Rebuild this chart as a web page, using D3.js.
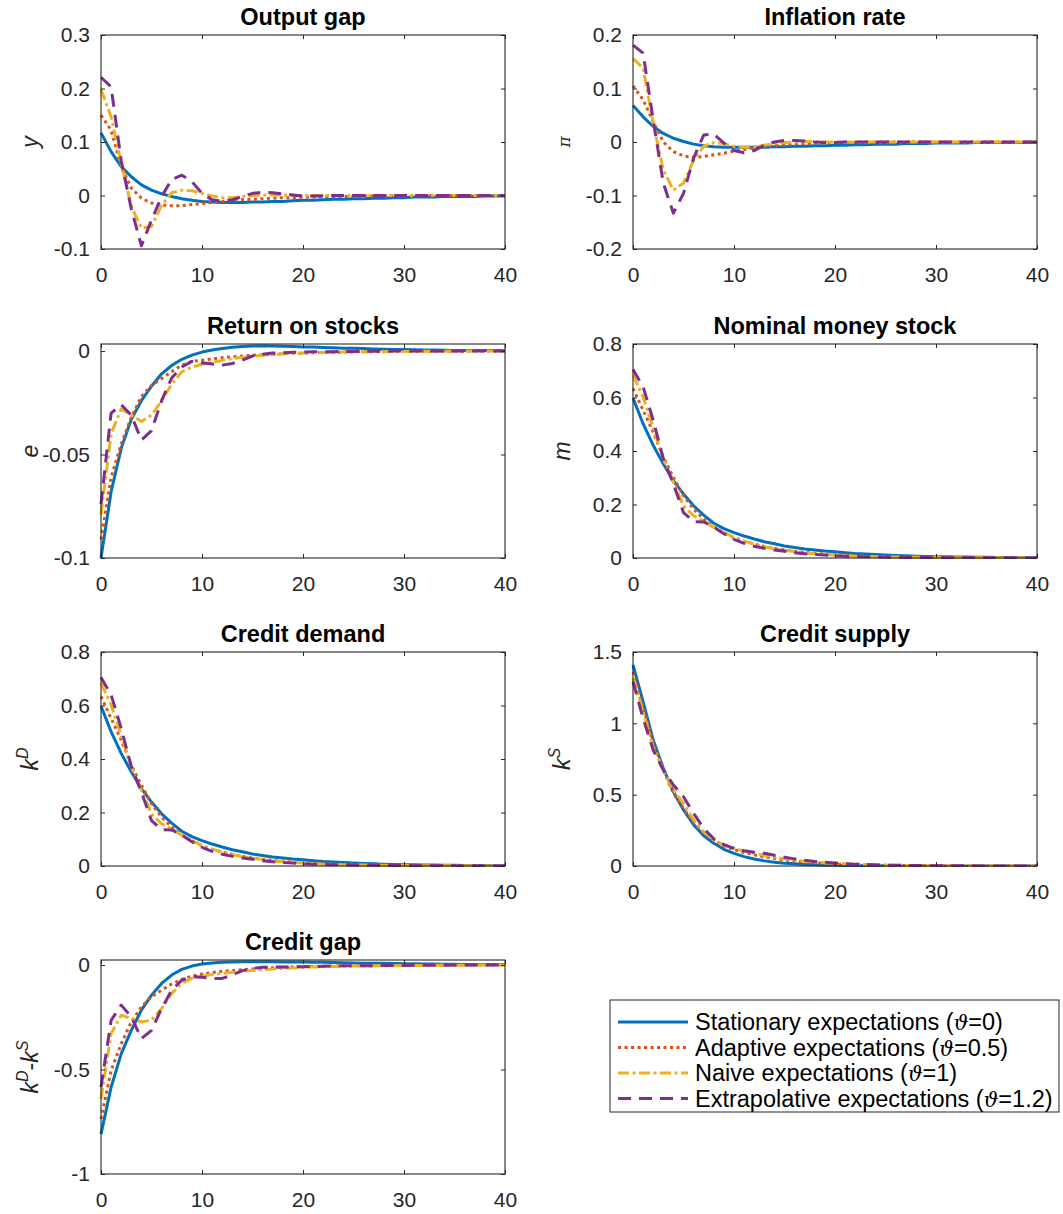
<!DOCTYPE html>
<html>
<head>
<meta charset="utf-8">
<script src="https://cdn.jsdelivr.net/npm/d3@7"></script>
<style>
  body { margin: 0; background: #fff; }
  svg { display: block; font-family: "Liberation Sans", Arial, Helvetica, sans-serif; }
</style>
</head>
<body>
<svg id="fig" width="1063" height="1214"></svg>
<script>
const steps = d3.range(0, 41);
const xTicks = [0, 10, 20, 30, 40];

const seriesNames = [
  "Stationary expectations",
  "Adaptive expectations",
  "Naive expectations",
  "Extrapolative expectations"
];
const thetaValues = ["0", "0.5", "1", "1.2"];

// Output gap
const yStat = [0.117,0.082,0.054,0.035,0.020,0.010,0.003,-0.002,-0.006,-0.009,-0.011,-0.012,-0.013,-0.013,-0.013,-0.012,-0.012,-0.011,-0.011,-0.010,-0.009,-0.009,-0.008,-0.007,-0.007,-0.006,-0.006,-0.005,-0.005,-0.004,-0.004,-0.003,-0.003,-0.003,-0.002,-0.002,-0.002,-0.002,-0.001,-0.001,-0.001];
const yAdap = [0.150,0.122,0.054,0.014,-0.005,-0.014,-0.018,-0.019,-0.019,-0.017,-0.015,-0.013,-0.011,-0.009,-0.008,-0.007,-0.006,-0.005,-0.004,-0.004,-0.003,-0.003,-0.002,-0.002,-0.002,-0.002,-0.001,-0.001,-0.001,-0.001,-0.001,-0.001,0,0,0,0,0,0,0,0,0];
const yNaive = [0.198,0.147,0.060,-0.020,-0.061,-0.058,-0.018,0.005,0.010,0.009,0.004,-0.001,-0.004,-0.004,-0.002,0.000,0.001,0.001,0.001,0.000,0,0,0,0,0,0,0,0,0,0,0,0,0,0,0,0,0,0,0,0,0];
const yExtra = [0.221,0.203,0.065,-0.025,-0.094,-0.046,-0.002,0.030,0.038,0.026,0.004,-0.008,-0.011,-0.008,-0.002,0.004,0.006,0.005,0.003,0.001,-0.001,-0.001,-0.001,0,0,0,0,0,0,0,0,0,0,0,0,0,0,0,0,0,0];

// Inflation rate
const piStat = [0.068,0.047,0.029,0.016,0.007,0.001,-0.004,-0.007,-0.009,-0.010,-0.010,-0.010,-0.010,-0.010,-0.009,-0.009,-0.008,-0.008,-0.007,-0.007,-0.006,-0.006,-0.005,-0.005,-0.004,-0.004,-0.004,-0.003,-0.003,-0.003,-0.002,-0.002,-0.002,-0.002,-0.001,-0.001,-0.001,-0.001,-0.001,-0.001,-0.001];
const piAdap = [0.105,0.079,0.038,0.000,-0.018,-0.026,-0.029,-0.027,-0.024,-0.021,-0.017,-0.014,-0.011,-0.009,-0.007,-0.005,-0.004,-0.003,-0.002,-0.002,-0.001,-0.001,-0.001,0,0,0,0,0,0,0,0,0,0,0,0,0,0,0,0,0,0];
const piNaive = [0.156,0.138,0.035,-0.052,-0.090,-0.077,-0.034,-0.008,-0.001,-0.003,-0.008,-0.010,-0.009,-0.006,-0.003,-0.001,0.000,0.001,0.001,0.000,0,0,0,0,0,0,0,0,0,0,0,0,0,0,0,0,0,0,0,0,0];
const piExtra = [0.181,0.166,0.041,-0.077,-0.133,-0.096,-0.030,0.013,0.015,-0.002,-0.016,-0.020,-0.016,-0.006,0.000,0.003,0.003,0.002,0.000,-0.001,-0.001,0,0,0,0,0,0,0,0,0,0,0,0,0,0,0,0,0,0,0,0];

// Return on stocks
const eStat = [-0.100,-0.068,-0.047,-0.033,-0.024,-0.017,-0.011,-0.007,-0.004,-0.002,-0.0005,0.0005,0.0012,0.0018,0.0022,0.0024,0.0025,0.0024,0.0023,0.0022,0.0020,0.0019,0.0017,0.0016,0.0014,0.0013,0.0012,0.0010,0.0009,0.0008,0.0007,0.0006,0.0005,0.0005,0.0004,0.0003,0.0003,0.0002,0.0002,0.0002,0.0001];
const eAdap = [-0.091,-0.061,-0.045,-0.032,-0.022,-0.0166,-0.0133,-0.010,-0.0068,-0.005,-0.0044,-0.0038,-0.0032,-0.0028,-0.0024,-0.0020,-0.0018,-0.0015,-0.0013,-0.0011,-0.0010,-0.0008,-0.0007,-0.0006,-0.0005,-0.0004,-0.0004,-0.0003,-0.0003,-0.0002,-0.0002,-0.0002,-0.0001,-0.0001,-0.0001,-0.0001,-0.0001,0,0,0,0];
const eNaive = [-0.079,-0.040,-0.028,-0.031,-0.034,-0.031,-0.024,-0.016,-0.010,-0.0077,-0.0064,-0.0055,-0.0045,-0.0037,-0.0030,-0.0025,-0.0020,-0.0017,-0.0014,-0.0012,-0.0010,-0.0008,-0.0007,-0.0006,-0.0005,-0.0004,-0.0003,-0.0003,-0.0002,-0.0002,-0.0002,-0.0001,-0.0001,-0.0001,-0.0001,0,0,0,0,0,0];
const eExtra = [-0.074,-0.030,-0.026,-0.031,-0.043,-0.0385,-0.024,-0.013,-0.0077,-0.005,-0.0057,-0.0063,-0.0068,-0.0060,-0.0044,-0.0024,-0.0015,-0.0010,-0.0008,-0.0006,-0.0005,-0.0004,-0.0003,-0.0003,-0.0002,-0.0002,-0.0001,-0.0001,-0.0001,0,0,0,0,0,0,0,0,0,0,0,0];

// Nominal money stock
const mStat = [0.598,0.502,0.421,0.352,0.289,0.239,0.195,0.160,0.130,0.110,0.095,0.082,0.071,0.061,0.053,0.045,0.039,0.034,0.030,0.026,0.023,0.020,0.017,0.015,0.013,0.011,0.0095,0.008,0.007,0.006,0.005,0.0045,0.004,0.0035,0.003,0.0025,0.002,0.0018,0.0015,0.0012,0.001];
const mAdap = [0.634,0.552,0.471,0.377,0.302,0.233,0.183,0.145,0.116,0.093,0.076,0.063,0.052,0.043,0.036,0.030,0.025,0.021,0.017,0.014,0.012,0.010,0.008,0.007,0.006,0.005,0.004,0.0035,0.003,0.0025,0.002,0.0017,0.0014,0.0012,0.001,0.0008,0.0007,0.0006,0.0005,0.0004,0.0003];
const mNaive = [0.684,0.602,0.489,0.371,0.283,0.195,0.158,0.139,0.114,0.095,0.077,0.063,0.052,0.042,0.035,0.029,0.024,0.019,0.016,0.013,0.011,0.009,0.007,0.006,0.005,0.004,0.0035,0.003,0.0025,0.002,0.0016,0.0013,0.0011,0.0009,0.0007,0.0006,0.0005,0.0004,0.0003,0.0003,0.0002];
const mExtra = [0.705,0.640,0.515,0.371,0.277,0.170,0.136,0.135,0.116,0.091,0.070,0.055,0.044,0.036,0.030,0.025,0.020,0.016,0.013,0.011,0.009,0.007,0.006,0.005,0.004,0.0035,0.003,0.0025,0.002,0.0016,0.0013,0.0011,0.0009,0.0007,0.0006,0.0005,0.0004,0.0003,0.0003,0.0002,0.0002];

// Credit demand
const kdStat = [0.598,0.502,0.421,0.352,0.289,0.239,0.195,0.160,0.130,0.110,0.095,0.082,0.071,0.061,0.053,0.045,0.039,0.034,0.030,0.026,0.023,0.020,0.017,0.015,0.013,0.011,0.0095,0.008,0.007,0.006,0.005,0.0045,0.004,0.0035,0.003,0.0025,0.002,0.0018,0.0015,0.0012,0.001];
const kdAdap = [0.634,0.552,0.471,0.377,0.302,0.233,0.183,0.145,0.116,0.093,0.076,0.063,0.052,0.043,0.036,0.030,0.025,0.021,0.017,0.014,0.012,0.010,0.008,0.007,0.006,0.005,0.004,0.0035,0.003,0.0025,0.002,0.0017,0.0014,0.0012,0.001,0.0008,0.0007,0.0006,0.0005,0.0004,0.0003];
const kdNaive = [0.684,0.602,0.489,0.371,0.283,0.195,0.158,0.139,0.114,0.095,0.077,0.063,0.052,0.042,0.035,0.029,0.024,0.019,0.016,0.013,0.011,0.009,0.007,0.006,0.005,0.004,0.0035,0.003,0.0025,0.002,0.0016,0.0013,0.0011,0.0009,0.0007,0.0006,0.0005,0.0004,0.0003,0.0003,0.0002];
const kdExtra = [0.705,0.640,0.515,0.371,0.277,0.170,0.136,0.135,0.116,0.091,0.070,0.055,0.044,0.036,0.030,0.025,0.020,0.016,0.013,0.011,0.009,0.007,0.006,0.005,0.004,0.0035,0.003,0.0025,0.002,0.0016,0.0013,0.0011,0.0009,0.0007,0.0006,0.0005,0.0004,0.0003,0.0003,0.0002,0.0002];

// Credit supply
const ksStat = [1.409,1.152,0.883,0.685,0.521,0.393,0.290,0.212,0.159,0.117,0.089,0.066,0.049,0.036,0.027,0.020,0.015,0.011,0.008,0.006,0.0045,0.0034,0.0025,0.0019,0.0014,0.001,0.0008,0.0006,0.0004,0.0003,0.0002,0.0002,0.0001,0.0001,0.0001,0,0,0,0,0,0];
const ksAdap = [1.362,1.117,0.860,0.670,0.510,0.404,0.304,0.229,0.178,0.140,0.115,0.095,0.078,0.064,0.052,0.042,0.034,0.027,0.022,0.018,0.014,0.011,0.009,0.007,0.006,0.005,0.004,0.003,0.0025,0.002,0.0016,0.0013,0.001,0.0008,0.0006,0.0005,0.0004,0.0003,0.0002,0.0002,0.0001];
const ksNaive = [1.315,1.082,0.836,0.670,0.533,0.439,0.322,0.241,0.182,0.147,0.124,0.105,0.090,0.075,0.062,0.051,0.042,0.034,0.028,0.023,0.018,0.015,0.012,0.010,0.008,0.006,0.005,0.004,0.0032,0.0025,0.002,0.0016,0.0013,0.001,0.0008,0.0006,0.0005,0.0004,0.0003,0.0002,0.0002];
const ksExtra = [1.292,1.035,0.813,0.673,0.568,0.486,0.369,0.264,0.190,0.150,0.124,0.107,0.096,0.089,0.075,0.062,0.050,0.040,0.032,0.026,0.021,0.017,0.013,0.010,0.008,0.006,0.005,0.004,0.003,0.0025,0.002,0.0016,0.0013,0.001,0.0008,0.0006,0.0005,0.0004,0.0003,0.0002,0.0002];

// Credit gap
const gapStat = [-0.809,-0.585,-0.425,-0.313,-0.216,-0.144,-0.088,-0.048,-0.021,-0.005,0.005,0.010,0.013,0.015,0.016,0.016,0.016,0.016,0.015,0.015,0.014,0.013,0.013,0.012,0.011,0.010,0.009,0.009,0.008,0.007,0.006,0.006,0.005,0.005,0.004,0.004,0.003,0.003,0.003,0.002,0.002];
const gapAdap = [-0.737,-0.505,-0.377,-0.272,-0.200,-0.152,-0.120,-0.091,-0.069,-0.053,-0.043,-0.036,-0.030,-0.026,-0.022,-0.019,-0.016,-0.013,-0.011,-0.009,-0.008,-0.007,-0.006,-0.005,-0.004,-0.004,-0.003,-0.003,-0.002,-0.002,-0.002,-0.001,-0.001,-0.001,-0.001,-0.001,0,0,0,0,0];
const gapNaive = [-0.641,-0.328,-0.240,-0.256,-0.272,-0.264,-0.208,-0.136,-0.088,-0.064,-0.053,-0.045,-0.040,-0.035,-0.030,-0.026,-0.022,-0.019,-0.016,-0.014,-0.012,-0.010,-0.008,-0.007,-0.006,-0.005,-0.004,-0.004,-0.003,-0.003,-0.002,-0.002,-0.002,-0.001,-0.001,-0.001,-0.001,0,0,0,0];
const gapExtra = [-0.585,-0.265,-0.192,-0.248,-0.352,-0.313,-0.208,-0.120,-0.072,-0.056,-0.059,-0.064,-0.064,-0.048,-0.027,-0.016,-0.011,-0.010,-0.010,-0.009,-0.008,-0.007,-0.006,-0.005,-0.004,-0.004,-0.003,-0.003,-0.002,-0.002,-0.002,-0.001,-0.001,-0.001,-0.001,0,0,0,0,0,0];

const lineStyles = [
  { color: "#0072BD", dash: null },
  { color: "#D95319", dash: "3,3.5" },
  { color: "#EDB120", dash: "11,3.5,3,3.5" },
  { color: "#7E2F8E", dash: "13,8" }
];

const panels = [
  { title: "Output gap", col: 0, row: 0, domain: [-0.1, 0.3], ticks: [-0.1, 0, 0.1, 0.2, 0.3], label: "y", series: [yStat, yAdap, yNaive, yExtra] },
  { title: "Inflation rate", col: 1, row: 0, domain: [-0.2, 0.2], ticks: [-0.2, -0.1, 0, 0.1, 0.2], label: "pi", series: [piStat, piAdap, piNaive, piExtra] },
  { title: "Return on stocks", col: 0, row: 1, domain: [-0.1, 0.0034], ticks: [-0.1, -0.05, 0], label: "e", series: [eStat, eAdap, eNaive, eExtra] },
  { title: "Nominal money stock", col: 1, row: 1, domain: [0, 0.8], ticks: [0, 0.2, 0.4, 0.6, 0.8], label: "m", series: [mStat, mAdap, mNaive, mExtra] },
  { title: "Credit demand", col: 0, row: 2, domain: [0, 0.8], ticks: [0, 0.2, 0.4, 0.6, 0.8], label: "kD", series: [kdStat, kdAdap, kdNaive, kdExtra] },
  { title: "Credit supply", col: 1, row: 2, domain: [0, 1.5], ticks: [0, 0.5, 1, 1.5], label: "kS", series: [ksStat, ksAdap, ksNaive, ksExtra] },
  { title: "Credit gap", col: 0, row: 3, domain: [-1, 0.024], ticks: [-1, -0.5, 0], label: "gap", series: [gapStat, gapAdap, gapNaive, gapExtra] }
];

const svg = d3.select("#fig");
svg.append("rect").attr("width", 1063).attr("height", 1214).attr("fill", "#fff");

const colLeft = [101, 633];
const plotW = 404;
const rowTop = [35, 344, 652, 960];
const plotH = 214;
const ink = "#262626";
const tickFont = "21px";

function styleAxis(axis) {
  axis.select(".domain").remove();
  axis.selectAll("line").attr("stroke", ink).attr("stroke-width", 1);
  axis.selectAll("text").attr("fill", ink).style("font-size", tickFont);
}

function fmt(v) {
  return String(v);
}

panels.forEach((p) => {
  const left = colLeft[p.col];
  const top = rowTop[p.row];
  const g = svg.append("g").attr("transform", `translate(${left},${top})`);
  const x = d3.scaleLinear().domain([0, 40]).range([0, plotW]);
  const y = d3.scaleLinear().domain(p.domain).range([plotH, 0]);

  const clipId = `clip-${p.col}-${p.row}`;
  g.append("clipPath").attr("id", clipId).append("rect").attr("x", -2).attr("y", -1).attr("width", plotW + 4).attr("height", plotH + 2);

  // series
  const line = d3.line().x((d, i) => x(steps[i])).y((d) => y(d));
  const lines = g.append("g").attr("clip-path", `url(#${clipId})`);
  p.series.forEach((vals, k) => {
    const st = lineStyles[k];
    lines.append("path")
      .attr("d", line(vals))
      .attr("fill", "none")
      .attr("stroke", st.color)
      .attr("stroke-width", 3)
      .attr("stroke-linejoin", "round")
      .attr("stroke-dasharray", st.dash);
  });

  // axes with inward ticks
  g.append("g").attr("transform", `translate(0,${plotH})`)
    .call(d3.axisBottom(x).tickValues(xTicks).tickSize(-4).tickPadding(18).tickFormat(fmt))
    .call(styleAxis);
  g.append("g")
    .call(d3.axisTop(x).tickValues(xTicks).tickSize(-4).tickFormat(""))
    .call(styleAxis);
  g.append("g")
    .call(d3.axisLeft(y).tickValues(p.ticks).tickSize(-4).tickPadding(11).tickFormat(fmt))
    .call(styleAxis);
  g.append("g").attr("transform", `translate(${plotW},0)`)
    .call(d3.axisRight(y).tickValues(p.ticks).tickSize(-4).tickFormat(""))
    .call(styleAxis);

  g.append("rect").attr("width", plotW).attr("height", plotH)
    .attr("fill", "none").attr("stroke", ink).attr("stroke-width", 1.1);

  // title
  g.append("text")
    .attr("x", plotW / 2).attr("y", -10)
    .attr("text-anchor", "middle")
    .attr("font-weight", "bold")
    .attr("font-size", "23.5px")
    .attr("fill", "#000")
    .text(p.title);

  // y label
  const lab = g.append("text")
    .attr("transform", `translate(${-63},${plotH / 2}) rotate(-90)`)
    .attr("text-anchor", "middle")
    .attr("fill", ink)
    .attr("font-size", "23px");
  if (p.label === "pi") {
    lab.attr("font-size", "17px").attr("font-style", "italic").attr("font-family", "'DejaVu Serif', serif").text("π");
  } else if (p.label === "kD" || p.label === "kS") {
    lab.append("tspan").attr("font-style", "italic").text("k");
    lab.append("tspan").attr("font-style", "italic").attr("font-size", "16px").attr("dy", -10).text(p.label[1]);
  } else if (p.label === "gap") {
    lab.append("tspan").attr("font-style", "italic").text("k");
    lab.append("tspan").attr("font-style", "italic").attr("font-size", "16px").attr("dy", -10).text("D");
    lab.append("tspan").attr("dy", 10).text("-");
    lab.append("tspan").attr("font-style", "italic").text("k");
    lab.append("tspan").attr("font-style", "italic").attr("font-size", "16px").attr("dy", -10).text("S");
  } else {
    lab.attr("font-style", "italic").text(p.label);
  }
});

// legend
const leg = svg.append("g").attr("transform", "translate(610,1000)");
leg.append("rect").attr("width", 449).attr("height", 112)
  .attr("fill", "#fff").attr("stroke", ink).attr("stroke-width", 1);
seriesNames.forEach((name, k) => {
  const st = lineStyles[k];
  const yy = 22 + k * 25.5;
  leg.append("line")
    .attr("x1", 8).attr("x2", 78).attr("y1", yy).attr("y2", yy)
    .attr("stroke", st.color).attr("stroke-width", 3)
    .attr("stroke-dasharray", st.dash);
  const t = leg.append("text")
    .attr("x", 85).attr("y", yy + 8)
    .attr("font-size", "23.5px").attr("fill", "#000");
  t.append("tspan").text(`${name} (`);
  t.append("tspan").attr("font-style", "italic").attr("font-family", "'DejaVu Serif', serif").attr("font-size", "20.5px").text("ϑ");
  t.append("tspan").text(`=${thetaValues[k]})`);
});
</script>
</body>
</html>
